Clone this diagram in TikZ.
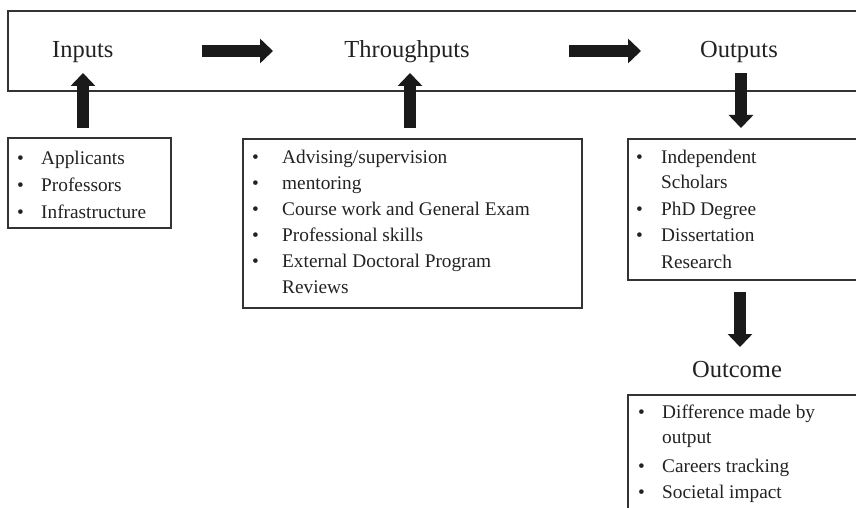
\documentclass[tikz,border=0pt]{standalone}
\usepackage{fontspec}
\setmainfont{Liberation Serif}
\usetikzlibrary{arrows.meta}
\definecolor{ink}{HTML}{222222}
\definecolor{frame}{HTML}{333333}
\definecolor{arrowink}{HTML}{1A1A1A}
\tikzset{
  box/.style={draw=frame, line width=1.1pt, rectangle, inner sep=0pt, fill=none},
  heading/.style={anchor=base west, inner sep=0pt, text=ink, font=\fontsize{24.5}{26}\selectfont},
  headc/.style={anchor=base, inner sep=0pt, text=ink, font=\fontsize{24.5}{26}\selectfont},
  itm/.style={anchor=base west, inner sep=0pt, text=ink, font=\fontsize{19.3}{22}\selectfont},
  blockarrow/.style={draw=arrowink, line width=11.5pt, line cap=butt,
    -{Triangle[length=13pt,width=24pt]}},
}
\begin{document}
\begin{tikzpicture}[x=1pt,y=-1pt]
\useasboundingbox (0,0) rectangle (856,508);
\clip (0,0) rectangle (856,508);
% boxes
\node[box, minimum width=892pt, minimum height=80pt] (top) at (454,51) {};
\node[box, minimum width=163pt, minimum height=90pt] (inbox) at (89.5,183) {};
\node[box, minimum width=339pt, minimum height=169pt] (thbox) at (412.5,223.5) {};
\node[box, minimum width=272pt, minimum height=141pt] (outbox) at (764,209.5) {};
\node[box, minimum width=272pt, minimum height=165pt] (ocbox) at (764,477.5) {};
% headings
\node[heading] (inputs) at (52,58) {Inputs};
\node[headc] (through) at (407,58) {Throughputs};
\node[headc] (outputs) at (739,58) {Outputs};
\node[headc] (outcome) at (737,377) {Outcome};
% arrow coordinates
\coordinate (a1s) at (202,51);
\coordinate (a1e) at (273,51);
\coordinate (a2s) at (569,51);
\coordinate (a2e) at (641,51);
\coordinate (u1s) at (83,128);
\coordinate (u1e) at (83,73);
\coordinate (u2s) at (410,128);
\coordinate (u2e) at (410,73);
\coordinate (d1s) at (741,73);
\coordinate (d1e) at (741,128);
\coordinate (d2s) at (740,292);
\coordinate (d2e) at (740,347);
\draw[blockarrow] (a1s) -- (a1e);
\draw[blockarrow] (a2s) -- (a2e);
\draw[blockarrow] (u1s) -- (u1e);
\draw[blockarrow] (u2s) -- (u2e);
\draw[blockarrow] (d1s) -- (d1e);
\draw[blockarrow] (d2s) -- (d2e);
% inputs items
\node[itm] (ib1) at (17,164) {•};
\node[itm] (it1) at (41,164) {Applicants};
\node[itm] (ib2) at (17,191) {•};
\node[itm] (it2) at (41,191) {Professors};
\node[itm] (ib3) at (17,218) {•};
\node[itm] (it3) at (41,218) {Infrastructure};
% throughputs items
\node[itm] (tb1) at (252,163) {•};
\node[itm] (tt1) at (282,163) {Advising/supervision};
\node[itm] (tb2) at (252,189) {•};
\node[itm] (tt2) at (282,189) {mentoring};
\node[itm] (tb3) at (252,215) {•};
\node[itm] (tt3) at (282,215) {Course work and General Exam};
\node[itm] (tb4) at (252,241) {•};
\node[itm] (tt4) at (282,241) {Professional skills};
\node[itm] (tb5) at (252,267) {•};
\node[itm] (tt5) at (282,267) {External Doctoral Program};
\node[itm] (tt6) at (282,293) {Reviews};
% outputs items
\node[itm] (ob1) at (636,163) {•};
\node[itm] (ot1) at (661,163) {Independent};
\node[itm] (ot2) at (661,188) {Scholars};
\node[itm] (ob3) at (636,215) {•};
\node[itm] (ot3) at (661,215) {PhD Degree};
\node[itm] (ob4) at (636,241) {•};
\node[itm] (ot4) at (661,241) {Dissertation};
\node[itm] (ot5) at (661,268) {Research};
% outcome items
\node[itm] (cb1) at (638,418) {•};
\node[itm] (ct1) at (662,418) {Difference made by};
\node[itm] (ct2) at (662,443) {output};
\node[itm] (cb3) at (638,472) {•};
\node[itm] (ct3) at (662,472) {Careers tracking};
\node[itm] (cb4) at (638,498) {•};
\node[itm] (ct4) at (662,498) {Societal impact};
\end{tikzpicture}
\end{document}
